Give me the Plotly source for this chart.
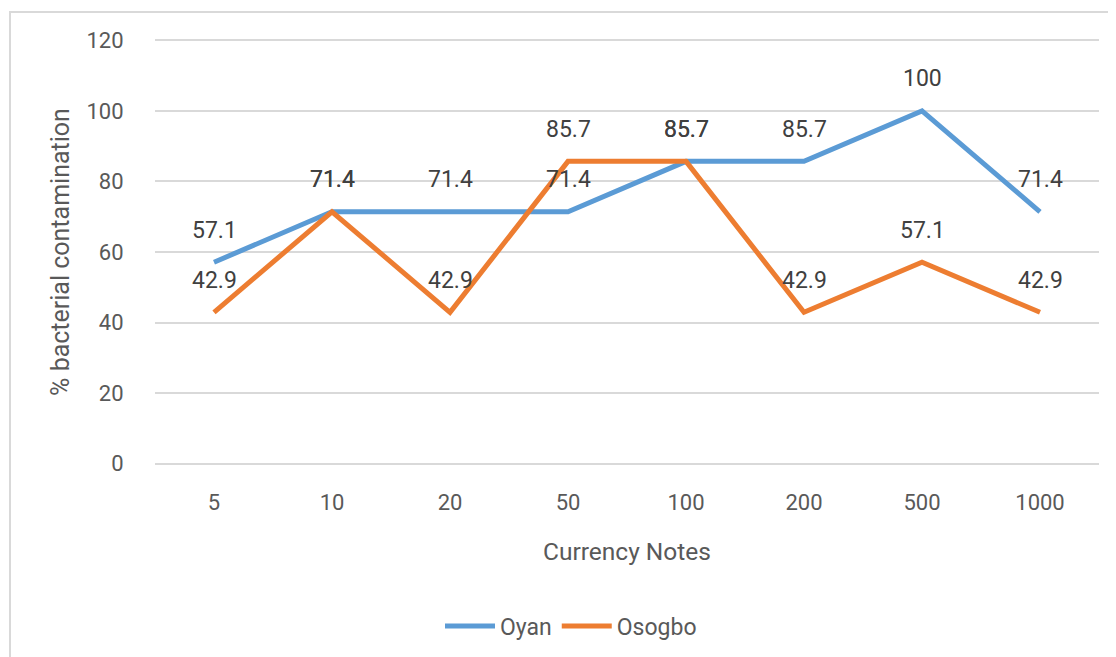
import plotly.graph_objects as go

categories = ["5", "10", "20", "50", "100", "200", "500", "1000"]
oyan = [57.1, 71.4, 71.4, 71.4, 85.7, 85.7, 100, 71.4]
osogbo = [42.9, 71.4, 42.9, 85.7, 85.7, 42.9, 57.1, 42.9]
y_ticks = [0, 20, 40, 60, 80, 100, 120]

FONT = "Roboto"
TXT = "#595959"
LBL = "#404040"
BLUE = "#5B9BD5"
ORANGE = "#ED7D31"

fig = go.Figure()
fig.add_trace(go.Scatter(x=categories, y=oyan, mode="lines", name="Oyan",
                         line=dict(color=BLUE, width=5)))
fig.add_trace(go.Scatter(x=categories, y=osogbo, mode="lines", name="Osogbo",
                         line=dict(color=ORANGE, width=5)))

annotations = []
for series in (oyan, osogbo):
    for i, v in enumerate(series):
        annotations.append(dict(x=i, y=v, xref="x", yref="y", text=f"{v:g}",
                                showarrow=False, yshift=32,
                                font=dict(family=FONT, size=23, color=LBL)))

W, H = 1116, 657
OFF = 8  # page body margin
PAD = 0.4
scale = 423 / 120
L = 155 - OFF
R = W - (1099 - OFF)
T = 40.5 - OFF - PAD * scale
B = H - (463.5 - OFF) - PAD * scale
pw, ph = W - L - R, H - T - B

def px_x(p):
    return (p - OFF - L) / pw

def px_y(p):
    return (H - B - (p - OFF)) / ph

fig.update_layout(
    width=W, height=H,
    margin=dict(l=L, r=R, t=T, b=B, autoexpand=False),
    paper_bgcolor="white", plot_bgcolor="white",
    font=dict(family=FONT, size=22, color=TXT),
    showlegend=True,
    legend=dict(orientation="h", x=px_x(440), xanchor="left", y=px_y(626), yanchor="middle",
                font=dict(family=FONT, size=23, color=TXT), itemwidth=50,
                traceorder="normal"),
    annotations=annotations,
    shapes=[dict(type="rect", xref="paper", yref="paper",
                 x0=px_x(10), x1=px_x(1140), y0=px_y(12), y1=px_y(700),
                 line=dict(color="#d9d9d9", width=2), fillcolor="rgba(0,0,0,0)", layer="below")],
)
fig.update_xaxes(type="category", range=[-0.5, 7.5], showgrid=False, showline=False,
                 zeroline=False, ticks="outside", ticklen=18, tickcolor="rgba(0,0,0,0)",
                 automargin=False,
                 tickfont=dict(family=FONT, size=22, color=TXT),
                 title=dict(text="Currency Notes", standoff=28,
                            font=dict(family=FONT, size=24.5, color=TXT)))
fig.update_yaxes(range=[-PAD, 120 + PAD], tickvals=y_ticks, showgrid=True, gridcolor="#d9d9d9",
                 gridwidth=1.5, zeroline=False, showline=False, ticks="outside", ticklen=26,
                 automargin=False,
                 tickcolor="rgba(0,0,0,0)", tickfont=dict(family=FONT, size=22, color=TXT),
                 title=dict(text="% bacterial contamination", standoff=9,
                            font=dict(family=FONT, size=25, color=TXT)))

fig.write_html("out.html")
